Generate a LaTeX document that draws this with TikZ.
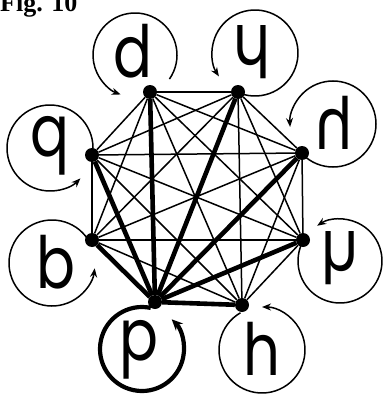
\documentclass[tikz,border=0pt]{standalone}
\usepackage{fontspec}
\newfontfamily\glyphfont{Poppins}
\newfontfamily\figfont{Liberation Serif}
\usetikzlibrary{arrows.meta}
\newcommand\narrow[1]{\scalebox{0.8}[1]{#1}}
\tikzset{
  vertex/.style={circle, fill=black, inner sep=0pt, minimum size=14pt},
  edge/.style={line width=1.5pt},
  strong edge/.style={line width=4.6pt},
  glyph/.style={inner sep=0pt, font=\glyphfont\fontsize{72}{72}\selectfont},
  loopline/.style={line width=1.5pt, -{Stealth[length=9pt,width=7pt]}},
  strong loop/.style={line width=4.2pt, -{Stealth[length=11pt,width=10pt]}}
}
\begin{document}
\begin{tikzpicture}[x=1pt, y=-1pt]
  \useasboundingbox (0,0) rectangle (383,396);
  \node[anchor=base west, inner sep=0pt, font=\figfont\bfseries\fontsize{26}{26}\selectfont] (fig) at (0,12) {Fig. 10};
  % vertices of the octagon
  \foreach \n/\x/\y in {1/150/92, 2/238/92, 3/302/153, 4/303/240, 5/242/305, 6/155/302, 7/92/240, 8/92/155}
    \node[vertex] (v\n) at (\x,\y) {};
  % thin edges, every pair
  \foreach \a in {1,...,7}{
    \pgfmathtruncatemacro\first{\a+1}
    \foreach \b in {\first,...,8}
      \draw[edge] (v\a) -- (v\b);
  }
  % thick edges from p
  \foreach \b in {1,2,3,4,5,7,8}
    \draw[strong edge] (v6) -- (v\b);
  % letters
  \node[glyph] (ld) at (133,51) {\narrow{d}};
  \node[glyph] (lche) at (252,52) {\rotatebox{180}{\narrow{h}}};
  \node[glyph] (lhr) at (334,123) {\reflectbox{\narrow{h}}};
  \node[glyph] (lmu) at (340,258) {\scalebox{1}[-1]{\narrow{h}}};
  \node[glyph] (lh) at (262,349) {\narrow{h}};
  \node[glyph] (lp) at (139,350) {\narrow{p}};
  \node[glyph] (lb) at (56,262) {\narrow{b}};
  \node[glyph] (lq) at (50,146) {\narrow{q}};
  % loop centres
  \foreach \n/\x/\y in {d/135/55, che/255/53, hr/333/124, mu/340/261, h/262/350, p/142/349, b/52/263, q/50/148}
    \coordinate (c\n) at (\x,\y);
  % loops
  \foreach \n/\r/\s/\e in {d/42/35/-250, che/43/110/-213, hr/43/135/-184, q/43/5/-315, b/43/-33/-353, mu/42/-155/-483, h/43/-120/-450}
    \draw[loopline] (c\n) ++(\s:\r) arc[start angle=\s, end angle=\e, radius=\r];
  \draw[strong loop] (cp) ++(-78:42) arc[start angle=-78, end angle=-405, radius=42];
\end{tikzpicture}
\end{document}
